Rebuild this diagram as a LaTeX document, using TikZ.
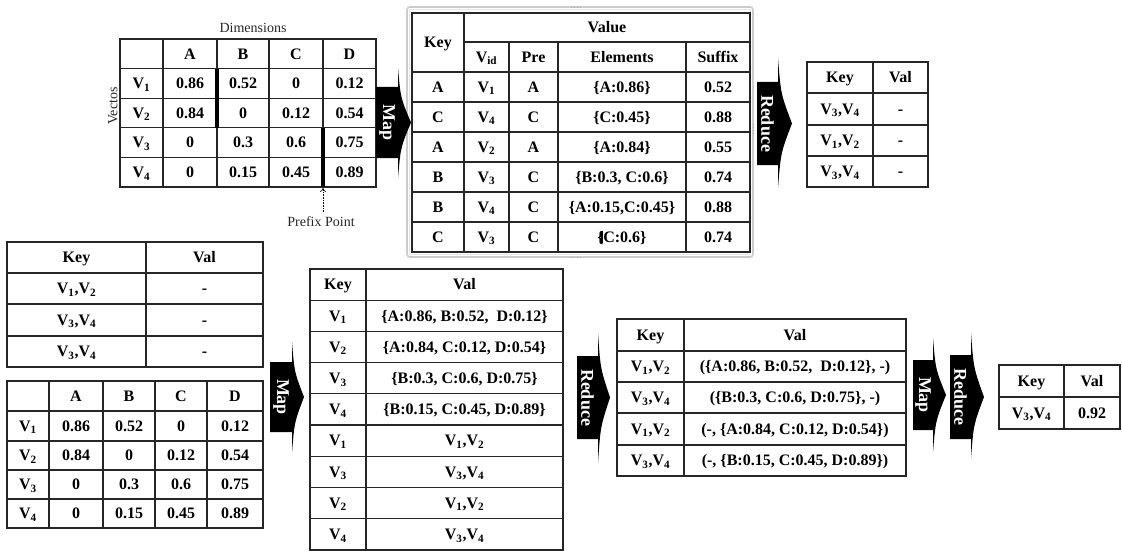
\documentclass[tikz,border=0pt]{standalone}
\usepackage{fontspec}
\usetikzlibrary{arrows.meta}
\setmainfont{Liberation Serif}
\newcommand\Vs[1]{V\textsubscript{#1}}
\newcommand\VV[2]{V\textsubscript{#1},V\textsubscript{#2}}
\newcommand\tgrid[6]{%
  \draw[grid] (#1,#3) rectangle (#2,#4);
  \foreach \xx in {#5} {\draw[grid] (\xx,#3) -- (\xx,#4);}
  \foreach \yy in {#6} {\draw[grid] (#1,\yy) -- (#2,\yy);}
}
\newcommand\bigarrow[9]{%
  \fill[black] (#2,#5) -- (#3,#5) -- (#3,#7)
    .. controls ({#3+0.2*(#4-#3)},{#7+0.55*((#5+#6)/2-#7)}) .. (#4,{(#5+#6)/2})
    .. controls ({#3+0.2*(#4-#3)},{#8-0.55*(#8-(#5+#6)/2)}) .. (#3,#8)
    -- (#3,#6) -- (#2,#6) -- cycle;
  \node[arrlab] (#1) at ({(#2+#3)/2},{(#5+#6)/2}) {#9};
}
\begin{document}
\begin{tikzpicture}[x=1pt,y=-1pt,
  cell/.style={font=\fontsize{16}{16}\selectfont\bfseries, inner sep=0pt, text height=10.5pt, text depth=0pt, text=black},
  plain/.style={font=\fontsize{14}{14}\selectfont, inner sep=0pt, text=black!85},
  grid/.style={line width=1.2pt, draw=black!85},
  arrlab/.style={font=\fontsize{18}{18}\selectfont\bfseries, text=white, rotate=-90, inner sep=0pt},
  bar/.style={line width=3.5pt, draw=black}
]
\useasboundingbox (0,0) rectangle (1122,551);

% ---------- top-left matrix ----------
\node[plain] (dim) at (253,28) {Dimensions};
\node[plain, rotate=90] (vec) at (113,106) {Vectos};
\tgrid{120}{376}{39}{187}{163,217,269,323}{68.6,98.2,127.8,157.4}
\foreach \yy/\ta/\tb/\tc/\td/\te [count=\r] in {53.8/{}/A/B/C/D, 83.4/\Vs{1}/0.86/0.52/0/0.12, 113/\Vs{2}/0.84/0/0.12/0.54, 142.6/\Vs{3}/0/0.3/0.6/0.75, 172.2/\Vs{4}/0/0.15/0.45/0.89}{
  \node[cell] (ma-\r-1) at (141.5,\yy) {\ta};
  \node[cell] (ma-\r-2) at (190,\yy) {\tb};
  \node[cell] (ma-\r-3) at (243,\yy) {\tc};
  \node[cell] (ma-\r-4) at (296,\yy) {\td};
  \node[cell] (ma-\r-5) at (349.5,\yy) {\te};
}
\draw[bar] (217,68.6) -- (217,127.8);
\draw[bar] (323,127.8) -- (323,187);
\coordinate (pp) at (323,188);
\node[plain] (prefix) at (321,222) {Prefix Point};
\draw[densely dotted, line width=0.6pt, -{To[length=4pt,width=6pt]}] ([yshift=5pt]prefix.north -| pp) -- (pp);

% ---------- central table with frame ----------
\draw[gray!40, line width=1.6pt, rounded corners=3pt] (407,7) rectangle (753,257);
\draw[gray!20, line width=0.8pt] (409.5,9.5) rectangle (750.5,254.5);
\foreach \hx/\hy/\ex/\ey in {571/7/580/7, 571/257/580/257, 407/124/407/133, 753/124/753/133}{
  \draw[gray!70, dotted, line width=0.9pt] (\hx,\hy) -- (\ex,\ey);
}
\draw[grid] (412,13) rectangle (750,252);
\draw[grid] (464,13) -- (464,252);
\draw[grid] (464,42) -- (750,42);
\foreach \xx in {509,558,686} {\draw[grid] (\xx,42) -- (\xx,252);}
\foreach \yy in {72,102,132,162,192,222} {\draw[grid] (412,\yy) -- (750,\yy);}
\node[cell] (ct-key) at (438,42.5) {Key};
\node[cell] (ct-val) at (607,27.5) {Value};
\node[cell] (ct-vid) at (486.5,57) {V\textsubscript{id}};
\node[cell] (ct-pre) at (533.5,57) {Pre};
\node[cell] (ct-el) at (622,57) {Elements};
\node[cell] (ct-suf) at (718,57) {Suffix};
\foreach \yy/\ta/\tb/\tc/\td/\te [count=\r] in {87/A/\Vs{1}/A/{\{A:0.86\}}/0.52, 117/C/\Vs{4}/C/{\{C:0.45\}}/0.88, 147/A/\Vs{2}/A/{\{A:0.84\}}/0.55, 177/B/\Vs{3}/C/{\{B:0.3, C:0.6\}}/0.74, 207/B/\Vs{4}/C/{\{A:0.15,C:0.45\}}/0.88, 237/C/\Vs{3}/C/{\{\kern-2.5pt\rule[-1pt]{1.6pt}{12pt}\kern0.5pt C:0.6\}}/0.74}{
  \node[cell] (ct-\r-1) at (438,\yy) {\ta};
  \node[cell] (ct-\r-2) at (486.5,\yy) {\tb};
  \node[cell] (ct-\r-3) at (533.5,\yy) {\tc};
  \node[cell] (ct-\r-4) at (622,\yy) {\td};
  \node[cell] (ct-\r-5) at (718,\yy) {\te};
}

% ---------- top-right table ----------
\tgrid{807}{928}{62}{187}{873}{93,125,156}
\foreach \yy/\ta/\tb [count=\r] in {77.5/Key/Val, 109/\VV{3}{4}/-, 140.5/\VV{1}{2}/-, 171.5/\VV{3}{4}/-}{
  \node[cell] (tr-\r-1) at (840,\yy) {\ta};
  \node[cell] (tr-\r-2) at (900.5,\yy) {\tb};
}

% ---------- bottom-left key/val table ----------
\tgrid{7}{263}{242}{367}{146}{273,304,336}
\foreach \yy/\ta/\tb [count=\r] in {257.5/Key/Val, 288.5/\VV{1}{2}/-, 320/\VV{3}{4}/-, 351.5/\VV{3}{4}/-}{
  \node[cell] (bl-\r-1) at (76.5,\yy) {\ta};
  \node[cell] (bl-\r-2) at (204.5,\yy) {\tb};
}

% ---------- bottom-left matrix ----------
\tgrid{7}{263}{381}{528}{49,103,155,207}{411,441,470,499}
\foreach \yy/\ta/\tb/\tc/\td/\te [count=\r] in {396/{}/A/B/C/D, 426/\Vs{1}/0.86/0.52/0/0.12, 455.5/\Vs{2}/0.84/0/0.12/0.54, 484.5/\Vs{3}/0/0.3/0.6/0.75, 513.5/\Vs{4}/0/0.15/0.45/0.89}{
  \node[cell] (mb-\r-1) at (28,\yy) {\ta};
  \node[cell] (mb-\r-2) at (76,\yy) {\tb};
  \node[cell] (mb-\r-3) at (129,\yy) {\tc};
  \node[cell] (mb-\r-4) at (181,\yy) {\td};
  \node[cell] (mb-\r-5) at (235,\yy) {\te};
}

% ---------- bottom-middle table ----------
\tgrid{310}{563}{269}{550}{366}{300.2,331.4,362.6,393.8,425,456.2,487.4,518.6}
\foreach \yy/\ta/\tb [count=\r] in {284.6/Key/Val, 315.8/\Vs{1}/{\{A:0.86, B:0.52,\ \ D:0.12\}}, 347/\Vs{2}/{\{A:0.84, C:0.12, D:0.54\}}, 378.2/\Vs{3}/{\{B:0.3, C:0.6, D:0.75\}}, 409.4/\Vs{4}/{\{B:0.15, C:0.45, D:0.89\}}, 440.6/\Vs{1}/\VV{1}{2}, 471.8/\Vs{3}/\VV{3}{4}, 503/\Vs{2}/\VV{1}{2}, 534.2/\Vs{4}/\VV{3}{4}}{
  \node[cell] (bm-\r-1) at (338,\yy) {\ta};
  \node[cell] (bm-\r-2) at (464.5,\yy) {\tb};
}

% ---------- bottom reduce output ----------
\tgrid{617}{906}{319}{476}{684}{351,382,413,445}
\foreach \yy/\ta/\tb [count=\r] in {335/Key/Val, 366.5/\VV{1}{2}/{(\{A:0.86, B:0.52,\ \ D:0.12\}, -)}, 397.5/\VV{3}{4}/{(\{B:0.3, C:0.6, D:0.75\}, -)}, 429/\VV{1}{2}/{(-, \{A:0.84, C:0.12, D:0.54\})}, 460.5/\VV{3}{4}/{(-, \{B:0.15, C:0.45, D:0.89\})}}{
  \node[cell] (br-\r-1) at (650.5,\yy) {\ta};
  \node[cell] (br-\r-2) at (795,\yy) {\tb};
}

% ---------- final table ----------
\tgrid{999}{1120}{365}{429}{1064}{397}
\node[cell] (fin-1-1) at (1031.5,381) {Key};
\node[cell] (fin-1-2) at (1092,381) {Val};
\node[cell] (fin-2-1) at (1031.5,413) {\VV{3}{4}};
\node[cell] (fin-2-2) at (1092,413) {0.92};

% ---------- arrows ----------
\bigarrow{mapA}{376}{398}{411}{87}{158}{68}{178}{Map}
\bigarrow{redA}{757}{778}{792}{82}{165}{58}{188}{Reduce}
\bigarrow{mapB}{270}{292}{304}{362}{432}{342}{453}{Map}
\bigarrow{redB}{577}{598}{610}{356}{439}{333}{463}{Reduce}
\bigarrow{mapC}{913}{933}{946}{360}{430}{338}{452}{Map}
\bigarrow{redC}{950}{971}{984}{355}{439}{333}{458}{Reduce}
\end{tikzpicture}
\end{document}
